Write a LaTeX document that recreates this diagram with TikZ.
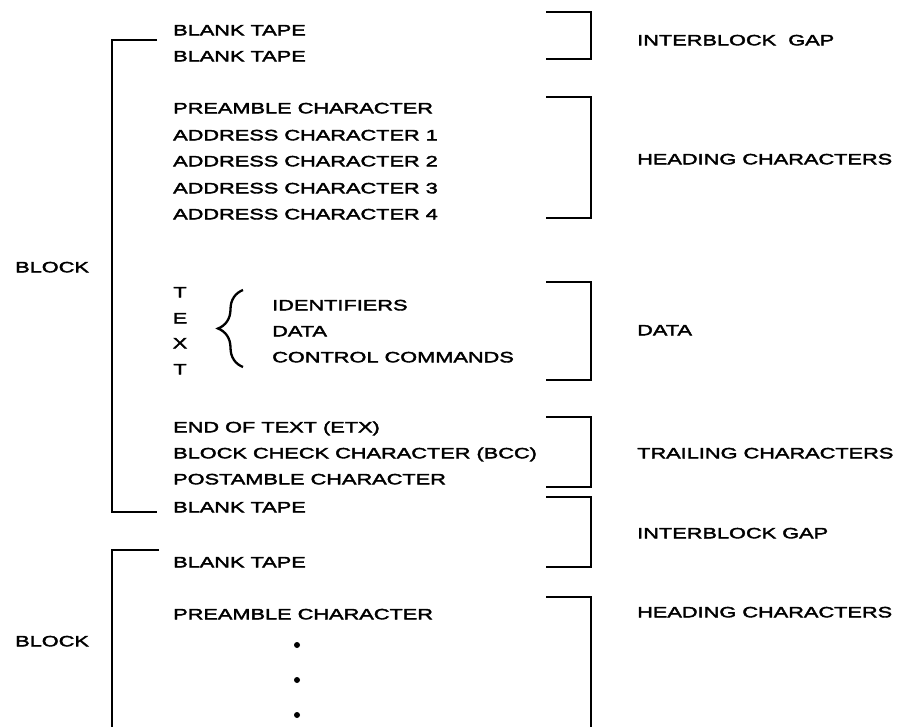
\documentclass[tikz,border=0pt]{standalone}
\usepackage{fontspec}
\setmainfont{Liberation Sans}[FakeStretch=1.45,FakeBold=2.5]
\usetikzlibrary{decorations.pathreplacing}

\begin{document}
\begin{tikzpicture}[x=1pt,y=-1pt,
    txt/.style={anchor=west, inner sep=0pt, text height=10.7pt, text depth=0pt,
        font=\fontsize{15}{18}\selectfont},
    brk/.style={line width=2.7pt}]
    \useasboundingbox (0,0) rectangle (901,727);
    % Block brackets
    \draw[brk] (157,40) -- (112,40) -- (112,512) -- (157,512);
    \draw[brk] (159,550) -- (112,550) -- (112,727);
    \node[txt] (block1) at (15,267) {BLOCK};
    \node[txt] (block2) at (15,641) {BLOCK};
    % First block
    \node[txt] (tape1) at (173,30) {BLANK TAPE};
    \node[txt] (tape2) at (173,56) {BLANK TAPE};
    \node[txt] (pre1) at (173,108) {PREAMBLE CHARACTER};
    \foreach \i/\y in {1/135,2/161,3/188,4/214}
        \node[txt] (addr\i) at (173,\y) {ADDRESS CHARACTER \i};
    % Text
    \foreach \ch/\y [count=\k] in {T/292,E/318,X/343,T/369}
        \node[txt, anchor=center] (text\k) at (180,\y) {\ch};
    \draw[line width=2.3pt, decorate, decoration={brace, amplitude=25pt}] (243,367) -- (243,290);
    \node[txt] (ident) at (272,305) {IDENTIFIERS};
    \node[txt] (data) at (272,331) {DATA};
    \node[txt] (ctrl) at (272,357) {CONTROL COMMANDS};
    % Trailing part
    \node[txt] (etx) at (173,427) {END OF TEXT (ETX)};
    \node[txt] (bcc) at (173,453) {BLOCK CHECK CHARACTER (BCC)};
    \node[txt] (post) at (173,479) {POSTAMBLE CHARACTER};
    \node[txt] (tape3) at (173,507) {BLANK TAPE};
    % Second block
    \node[txt] (tape4) at (173,562) {BLANK TAPE};
    \node[txt] (pre2) at (173,614) {PREAMBLE CHARACTER};
    \foreach \y [count=\k] in {645,680,715}
        \fill (297,\y) circle (3pt) coordinate (dot\k);
    % Right brackets
    \foreach \top/\bot in {12/59,97/218,282/380,417/487,497/567}
        \draw[brk] (546,\top) -- (591,\top) -- (591,\bot) -- (546,\bot);
    \draw[brk] (546,597) -- (591,597) -- (591,727);
    \node[txt] (gapA) at (637,40) {INTERBLOCK\ \ GAP};
    \node[txt] (headA) at (637,159) {HEADING CHARACTERS};
    \node[txt] (dataA) at (637,330) {DATA};
    \node[txt] (trail) at (637,453) {TRAILING CHARACTERS};
    \node[txt] (gapB) at (637,533) {INTERBLOCK GAP};
    \node[txt] (headB) at (637,612) {HEADING CHARACTERS};
\end{tikzpicture}
\end{document}
